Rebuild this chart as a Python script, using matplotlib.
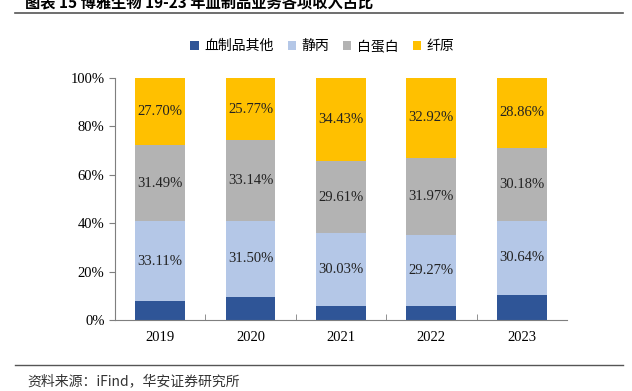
import numpy as np
import matplotlib.pyplot as plt
from matplotlib.lines import Line2D

plt.rcParams['font.family'] = ['Liberation Serif', 'Noto Sans CJK SC', 'DejaVu Sans']

years = ['2019', '2020', '2021', '2022', '2023']
series = ['血制品其他', '静丙', '白蛋白', '纤原']
jingbing = np.array([33.11, 31.50, 30.03, 29.27, 30.64])
baidanbai = np.array([31.49, 33.14, 29.61, 31.97, 30.18])
xianyuan = np.array([27.70, 25.77, 34.43, 32.92, 28.86])
qita = 100 - jingbing - baidanbai - xianyuan
colors = ['#2F5597', '#B4C7E7', '#B3B3B3', '#FFC000']

fig = plt.figure(figsize=(6.32, 3.91), dpi=100)
ax = fig.add_axes([0.182, 0.1816, 0.715, 0.619])

x = np.arange(len(years))
bottom = np.zeros(len(years))
vals = [qita, jingbing, baidanbai, xianyuan]
for i, v in enumerate(vals):
    ax.bar(x, v, 0.55, bottom=bottom, color=colors[i], label=series[i])
    if i > 0:
        for j in range(len(years)):
            ax.text(x[j], bottom[j] + v[j] / 2, '%.2f%%' % v[j],
                    ha='center', va='center', fontsize=10.5, color='#222222')
    bottom = bottom + v

ax.set_xlim(-0.5, len(years) - 0.5)
ax.set_ylim(0, 100)
ax.set_yticks(np.arange(0, 101, 20))
ax.set_yticklabels(['%d%%' % t for t in range(0, 101, 20)], fontsize=10.5)
ax.set_xticks(x)
ax.set_xticklabels(years, fontsize=10.5)
ax.set_xticks(np.arange(0.5, len(years) - 0.5, 1), minor=True)
ax.tick_params(axis='x', which='major', length=0, pad=8)
ax.tick_params(axis='x', which='minor', direction='in', length=4, color='#7f7f7f')
ax.tick_params(axis='y', direction='out', length=4, color='#7f7f7f')
for s in ['top', 'right']:
    ax.spines[s].set_visible(False)
for s in ['left', 'bottom']:
    ax.spines[s].set_color('#7f7f7f')

leg = fig.legend(loc='center', bbox_to_anchor=(0.51, 0.882), ncol=4, frameon=False,
                 prop={'family': ['Noto Sans CJK SC'], 'size': 10},
                 handlelength=0.6, handleheight=0.6, handletextpad=0.4, columnspacing=1.0)

fig.text(0.04, 0.995, '图表 15 博雅生物 19-23 年血制品业务各项收入占比',
         fontsize=11, fontweight='bold', family=['Noto Sans CJK SC'], va='center')
fig.add_artist(Line2D([0.024, 0.985], [0.967, 0.967], color='#555555', lw=1.2))
fig.add_artist(Line2D([0.024, 0.985], [0.066, 0.066], color='#555555', lw=1.0))
fig.text(0.043, 0.026, '资料来源：iFind，华安证券研究所', fontsize=10,
         family=['Noto Sans CJK SC', 'DejaVu Sans'], va='center', color='#333333')

fig.savefig('out.png', dpi=100)
